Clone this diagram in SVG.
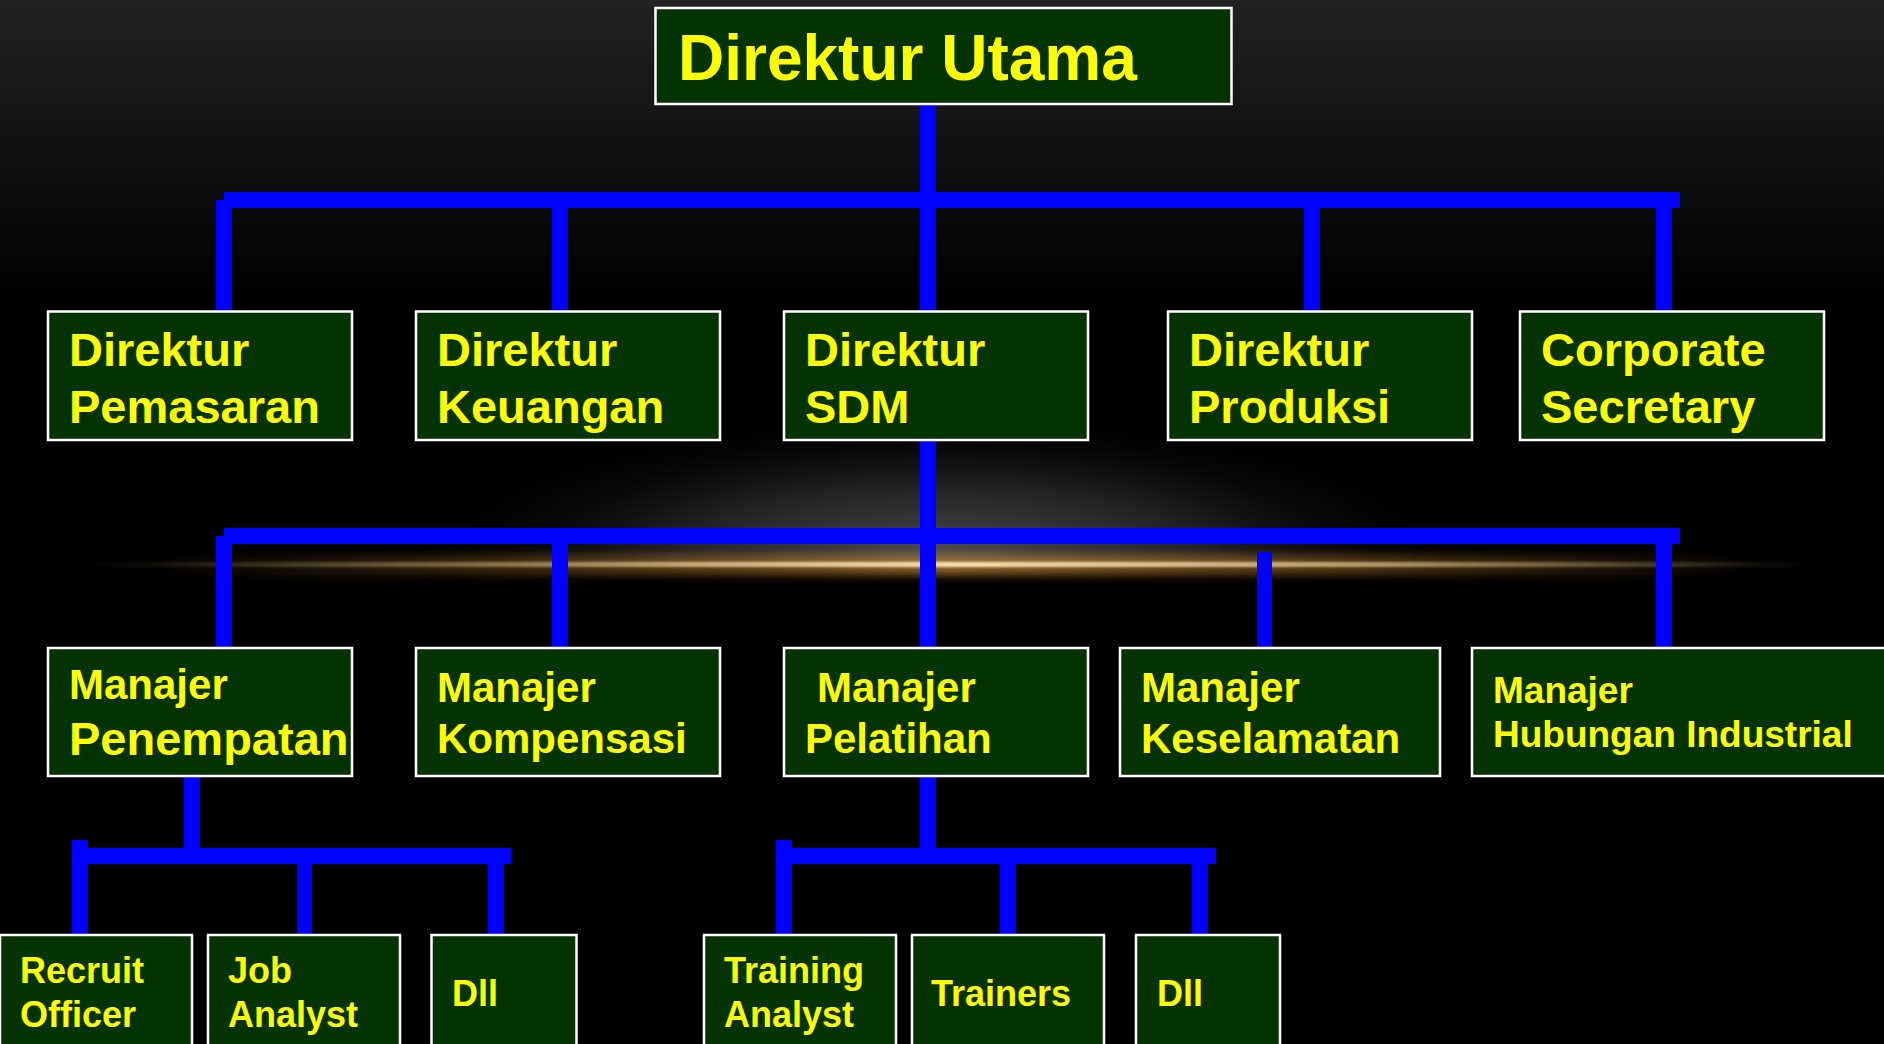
<svg xmlns="http://www.w3.org/2000/svg" width="1884" height="1044" viewBox="0 0 1884 1044">
<style>
.box{fill:#033300;stroke:#ffffff;stroke-width:2.5}
.t{font-family:"Liberation Sans",Arial,sans-serif;font-weight:bold;fill:#ffff00}
.c{fill:#0000ff}
</style>
<defs>
<linearGradient id="bgTop" x1="0" y1="0" x2="0" y2="1">
<stop offset="0" stop-color="#222222"/>
<stop offset="1" stop-color="#000000"/>
</linearGradient>
<radialGradient id="glow" cx="0.5" cy="0.5" r="0.5">
<stop offset="0" stop-color="#505050" stop-opacity="1"/>
<stop offset="0.5" stop-color="#2a2a2a" stop-opacity="0.8"/>
<stop offset="1" stop-color="#000000" stop-opacity="0"/>
</radialGradient>
<linearGradient id="streak" x1="0" y1="0" x2="1" y2="0">
<stop offset="0" stop-color="#f3d9a0" stop-opacity="0"/>
<stop offset="0.25" stop-color="#f3d9a0" stop-opacity="0.45"/>
<stop offset="0.5" stop-color="#f7e2b0" stop-opacity="1"/>
<stop offset="0.75" stop-color="#f3d9a0" stop-opacity="0.6"/>
<stop offset="1" stop-color="#f3d9a0" stop-opacity="0"/>
</linearGradient>
<linearGradient id="streakHalo" x1="0" y1="0" x2="1" y2="0">
<stop offset="0" stop-color="#a06a20" stop-opacity="0"/>
<stop offset="0.3" stop-color="#a06a20" stop-opacity="0.5"/>
<stop offset="0.5" stop-color="#b07a30" stop-opacity="0.8"/>
<stop offset="0.75" stop-color="#a06a20" stop-opacity="0.5"/>
<stop offset="1" stop-color="#a06a20" stop-opacity="0"/>
</linearGradient>
<filter id="blur4" x="-10%" y="-300%" width="120%" height="700%"><feGaussianBlur stdDeviation="4"/></filter>
<filter id="blur1" x="-10%" y="-300%" width="120%" height="700%"><feGaussianBlur stdDeviation="1"/></filter>
<clipPath id="aboveLine"><rect x="0" y="0" width="1884" height="564"/></clipPath>
</defs>

<g id="background">
<rect x="0" y="0" width="1884" height="1044" fill="#000000"/>
<rect x="0" y="0" width="1884" height="300" fill="url(#bgTop)"/>
<ellipse cx="940" cy="560" rx="540" ry="150" fill="url(#glow)" clip-path="url(#aboveLine)"/>
<rect x="150" y="555" width="1600" height="20" fill="url(#streakHalo)" filter="url(#blur4)"/>
<rect x="90" y="562" width="1720" height="5" fill="url(#streak)" filter="url(#blur1)"/>
</g>

<g id="connectors">
<rect class="c" x="920" y="104" width="16" height="96"/>
<rect class="c" x="224" y="192" width="1456" height="16"/>
<rect class="c" x="216" y="200" width="16" height="112"/>
<rect class="c" x="552" y="200" width="16" height="112"/>
<rect class="c" x="920" y="200" width="16" height="112"/>
<rect class="c" x="1304" y="200" width="16" height="112"/>
<rect class="c" x="1656" y="200" width="16" height="112"/>

<rect class="c" x="920" y="440" width="16" height="208"/>
<rect class="c" x="224" y="528" width="1456" height="16"/>
<rect class="c" x="216" y="536" width="16" height="112"/>
<rect class="c" x="552" y="540" width="16" height="108"/>
<rect class="c" x="1257" y="552" width="15" height="96"/>
<rect class="c" x="1656" y="540" width="16" height="108"/>

<rect class="c" x="184" y="776" width="16" height="80"/>
<rect class="c" x="88" y="848" width="423" height="16"/>
<rect class="c" x="72" y="840" width="16" height="96"/>
<rect class="c" x="297" y="856" width="15" height="80"/>
<rect class="c" x="488" y="856" width="16" height="80"/>

<rect class="c" x="920" y="776" width="16" height="80"/>
<rect class="c" x="792" y="848" width="424" height="16"/>
<rect class="c" x="776" y="840" width="16" height="96"/>
<rect class="c" x="1000" y="856" width="16" height="80"/>
<rect class="c" x="1192" y="856" width="16" height="80"/>
</g>

<g id="direktur-utama">
<rect class="box" x="655.5" y="8" width="576" height="96"/>
<text class="t" x="678" y="80" font-size="64">Direktur Utama</text>
</g>

<g id="direktur-pemasaran">
<rect class="box" x="48" y="311.5" width="304" height="128.5"/>
<text class="t" font-size="47"><tspan x="69" y="366">Direktur</tspan><tspan x="69" y="423">Pemasaran</tspan></text>
</g>
<g id="direktur-keuangan">
<rect class="box" x="416" y="311.5" width="304" height="128.5"/>
<text class="t" font-size="47"><tspan x="437" y="366">Direktur</tspan><tspan x="437" y="423">Keuangan</tspan></text>
</g>
<g id="direktur-sdm">
<rect class="box" x="784" y="311.5" width="304" height="128.5"/>
<text class="t" font-size="47"><tspan x="805" y="366">Direktur</tspan><tspan x="805" y="423">SDM</tspan></text>
</g>
<g id="direktur-produksi">
<rect class="box" x="1168" y="311.5" width="304" height="128.5"/>
<text class="t" font-size="47"><tspan x="1189" y="366">Direktur</tspan><tspan x="1189" y="423">Produksi</tspan></text>
</g>
<g id="corporate-secretary">
<rect class="box" x="1520" y="311.5" width="304" height="128.5"/>
<text class="t" font-size="47"><tspan x="1541" y="366">Corporate</tspan><tspan x="1541" y="423">Secretary</tspan></text>
</g>

<g id="manajer-penempatan">
<rect class="box" x="48" y="648" width="304" height="128"/>
<text class="t" x="69" y="699" font-size="42">Manajer</text>
<text class="t" x="69" y="755" font-size="47">Penempatan</text>
</g>
<g id="manajer-kompensasi">
<rect class="box" x="416" y="648" width="304" height="128"/>
<text class="t" font-size="42"><tspan x="437" y="702">Manajer</tspan><tspan x="437" y="753">Kompensasi</tspan></text>
</g>
<g id="manajer-pelatihan">
<rect class="box" x="784" y="648" width="304" height="128"/>
<text class="t" font-size="42"><tspan x="817" y="702">Manajer</tspan><tspan x="805" y="753">Pelatihan</tspan></text>
</g>
<g id="manajer-keselamatan">
<rect class="box" x="1120" y="648" width="320" height="128"/>
<text class="t" font-size="42"><tspan x="1141" y="702">Manajer</tspan><tspan x="1141" y="753">Keselamatan</tspan></text>
</g>
<g id="manajer-hubungan-industrial">
<rect class="box" x="1472" y="648" width="420" height="128"/>
<text class="t" font-size="37"><tspan x="1493" y="703">Manajer</tspan><tspan x="1493" y="747">Hubungan Industrial</tspan></text>
</g>

<g id="recruit-officer">
<rect class="box" x="0" y="935" width="192" height="130"/>
<text class="t" font-size="36"><tspan x="20" y="983">Recruit</tspan><tspan x="20" y="1027">Officer</tspan></text>
</g>
<g id="job-analyst">
<rect class="box" x="208" y="935" width="192" height="130"/>
<text class="t" font-size="36"><tspan x="228" y="983">Job</tspan><tspan x="228" y="1027">Analyst</tspan></text>
</g>
<g id="dll-1">
<rect class="box" x="431.5" y="935" width="145" height="130"/>
<text class="t" x="452" y="1006" font-size="36">Dll</text>
</g>
<g id="training-analyst">
<rect class="box" x="704" y="935" width="192" height="130"/>
<text class="t" font-size="36"><tspan x="724" y="983">Training</tspan><tspan x="724" y="1027">Analyst</tspan></text>
</g>
<g id="trainers">
<rect class="box" x="912" y="935" width="192" height="130"/>
<text class="t" x="931" y="1006" font-size="36">Trainers</text>
</g>
<g id="dll-2">
<rect class="box" x="1136" y="935" width="144" height="130"/>
<text class="t" x="1157" y="1006" font-size="36">Dll</text>
</g>
</svg>
